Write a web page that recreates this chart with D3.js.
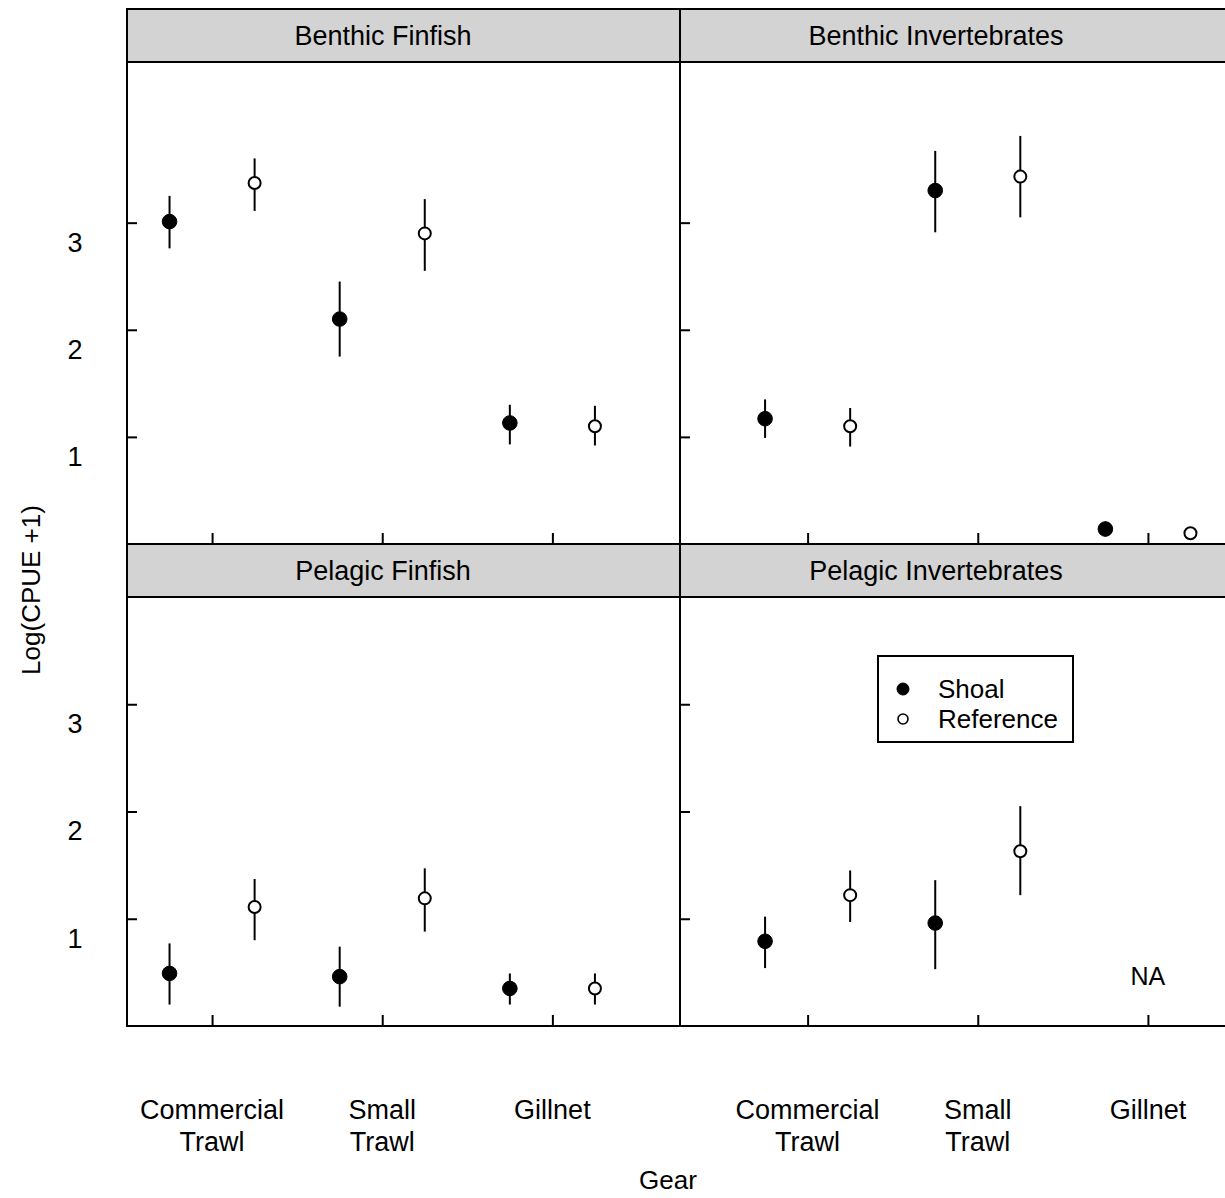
<!DOCTYPE html>
<html>
<head>
<meta charset="utf-8">
<script src="https://cdn.jsdelivr.net/npm/d3@7"></script>
<style>
  html, body { margin: 0; padding: 0; background: #fff; }
  svg { display: block; font-family: "Liberation Sans", Arial, Helvetica, sans-serif; }
</style>
</head>
<body>
<svg id="chart" width="1225" height="1198"></svg>
<script>
// Gear categories (x axis), two-line labels
const gears = ["Commercial Trawl", "Small Trawl", "Gillnet"];
const gearLabelLines = [["Commercial", "Trawl"], ["Small", "Trawl"], ["Gillnet"]];
const groups = ["Shoal", "Reference"];
const panelTitles = ["Benthic Finfish", "Benthic Invertebrates", "Pelagic Finfish", "Pelagic Invertebrates"];
const yTicks = [1, 2, 3];

// Means and error-bar limits of Log(CPUE + 1), per gear; null = not available
const benthicFinfishShoal = [3.01, 2.10, 1.13];
const benthicFinfishShoalLo = [2.76, 1.75, 0.93];
const benthicFinfishShoalHi = [3.25, 2.45, 1.30];
const benthicFinfishRef = [3.37, 2.90, 1.10];
const benthicFinfishRefLo = [3.11, 2.55, 0.92];
const benthicFinfishRefHi = [3.60, 3.22, 1.29];

const benthicInvertShoal = [1.17, 3.30, 0.14];
const benthicInvertShoalLo = [0.99, 2.91, 0.07];
const benthicInvertShoalHi = [1.35, 3.67, 0.21];
const benthicInvertRef = [1.10, 3.43, 0.10];
const benthicInvertRefLo = [0.91, 3.05, 0.06];
const benthicInvertRefHi = [1.27, 3.81, 0.14];

const pelagicFinfishShoal = [0.49, 0.46, 0.35];
const pelagicFinfishShoalLo = [0.20, 0.18, 0.20];
const pelagicFinfishShoalHi = [0.77, 0.74, 0.49];
const pelagicFinfishRef = [1.11, 1.19, 0.35];
const pelagicFinfishRefLo = [0.80, 0.88, 0.20];
const pelagicFinfishRefHi = [1.37, 1.47, 0.49];

const pelagicInvertShoal = [0.79, 0.96, null];
const pelagicInvertShoalLo = [0.54, 0.53, null];
const pelagicInvertShoalHi = [1.02, 1.36, null];
const pelagicInvertRef = [1.22, 1.63, null];
const pelagicInvertRefLo = [0.97, 1.22, null];
const pelagicInvertRefHi = [1.45, 2.05, null];

const yMaxTop = 4.5;
const yMaxBottom = 4;

// ---- assemble per-panel records ----
function series(mean, lo, hi, group) {
  return mean.map((m, i) => ({ gear: i + 1, group, mean: m, lo: lo[i], hi: hi[i] }));
}
const panelData = [
  series(benthicFinfishShoal, benthicFinfishShoalLo, benthicFinfishShoalHi, "Shoal")
    .concat(series(benthicFinfishRef, benthicFinfishRefLo, benthicFinfishRefHi, "Reference")),
  series(benthicInvertShoal, benthicInvertShoalLo, benthicInvertShoalHi, "Shoal")
    .concat(series(benthicInvertRef, benthicInvertRefLo, benthicInvertRefHi, "Reference")),
  series(pelagicFinfishShoal, pelagicFinfishShoalLo, pelagicFinfishShoalHi, "Shoal")
    .concat(series(pelagicFinfishRef, pelagicFinfishRefLo, pelagicFinfishRefHi, "Reference")),
  series(pelagicInvertShoal, pelagicInvertShoalLo, pelagicInvertShoalHi, "Shoal")
    .concat(series(pelagicInvertRef, pelagicInvertRefLo, pelagicInvertRefHi, "Reference"))
];

// ---- layout ----
const svg = d3.select("#chart");
const cols = [
  { range: [127, 680], domain: [0.5, 3.75], titleX: 383 },
  { range: [680, 1233], domain: [0.25, 3.5], titleX: 936 }
];
const rows = [
  { stripTop: 9, plotTop: 62, plotBottom: 544, yMax: yMaxTop },
  { stripTop: 544, plotTop: 597, plotBottom: 1026, yMax: yMaxBottom }
];
const offset = { Shoal: -0.25, Reference: 0.25 };
const fontSize = 27;

panelTitles.forEach((title, p) => {
  const r = rows[Math.floor(p / 2)];
  const col = cols[p % 2];
  const c = col.range;
  const x = d3.scaleLinear().domain(col.domain).range(c);
  const y = d3.scaleLinear().domain([0, r.yMax]).range([r.plotBottom, r.plotTop]);
  const g = svg.append("g");

  // strip
  g.append("rect")
    .attr("x", c[0]).attr("y", r.stripTop)
    .attr("width", c[1] - c[0]).attr("height", r.plotTop - r.stripTop)
    .attr("fill", "#d3d3d3").attr("stroke", "#000").attr("stroke-width", 2);
  g.append("text")
    .attr("x", col.titleX)
    .attr("y", (r.stripTop + r.plotTop) / 2)
    .attr("dy", "0.35em")
    .attr("text-anchor", "middle")
    .attr("font-size", fontSize)
    .text(title);

  // x ticks pointing inward from the panel bottom
  g.append("g")
    .attr("transform", `translate(0,${r.plotBottom})`)
    .call(d3.axisTop(x).tickValues([1, 2, 3]).tickSize(11).tickFormat(""))
    .call(a => a.select(".domain").remove())
    .selectAll("line").attr("stroke", "#000").attr("stroke-width", 2);

  // y ticks pointing inward from the panel's left edge
  g.append("g")
    .attr("transform", `translate(${c[0]},0)`)
    .call(d3.axisRight(y).tickValues(yTicks).tickSize(10).tickFormat(""))
    .call(a => a.select(".domain").remove())
    .selectAll("line").attr("stroke", "#000").attr("stroke-width", 2);

  // y tick labels on the left column only
  if (p % 2 === 0) {
    const lab = g.append("g")
      .attr("transform", `translate(${c[0]},0)`)
      .call(d3.axisLeft(y).tickValues(yTicks).tickSize(0).tickPadding(0).tickFormat(d3.format("d")));
    lab.select(".domain").remove();
    lab.selectAll("text")
      .attr("x", -52)
      .attr("dy", "1.05em")
      .attr("text-anchor", "middle")
      .attr("font-size", fontSize)
      .attr("font-family", "Liberation Sans, Arial, sans-serif")
      .attr("fill", "#000");
  }

  // panel border
  g.append("rect")
    .attr("x", c[0]).attr("y", r.plotTop)
    .attr("width", c[1] - c[0]).attr("height", r.plotBottom - r.plotTop)
    .attr("fill", "none").attr("stroke", "#000").attr("stroke-width", 2);

  const pts = panelData[p].filter(d => d.mean !== null);
  const px = d => x(d.gear + offset[d.group]);

  // error bars
  g.selectAll("line.err").data(pts).join("line")
    .attr("class", "err")
    .attr("x1", px).attr("x2", px)
    .attr("y1", d => y(d.lo)).attr("y2", d => y(d.hi))
    .attr("stroke", "#000").attr("stroke-width", 2);

  // means
  g.selectAll("circle.pt").data(pts).join("circle")
    .attr("class", "pt")
    .attr("cx", px).attr("cy", d => y(d.mean))
    .attr("r", d => d.group === "Shoal" ? 7.3 : 6)
    .attr("fill", d => d.group === "Shoal" ? "#000" : "#fff")
    .attr("stroke", "#000").attr("stroke-width", d => d.group === "Shoal" ? 1 : 2);

  // missing gear marker
  panelData[p].filter(d => d.mean === null && d.group === "Shoal").forEach(d => {
    g.append("text")
      .attr("x", x(d.gear)).attr("y", y(0.46))
      .attr("dy", "0.35em").attr("text-anchor", "middle")
      .attr("font-size", fontSize - 2)
      .text("NA");
  });

  // x tick labels beneath the bottom row
  if (Math.floor(p / 2) === 1) {
    gearLabelLines.forEach((lines, i) => {
      const t = g.append("text")
        .attr("x", x(i + 1))
        .attr("y", 1119)
        .attr("text-anchor", "middle")
        .attr("font-size", fontSize);
      lines.forEach((ln, k) => {
        t.append("tspan").attr("x", x(i + 1)).attr("dy", k === 0 ? 0 : 32).text(ln);
      });
    });
  }
});

// legend inside the Pelagic Invertebrates panel
const legend = svg.append("g");
legend.append("rect")
  .attr("x", 878).attr("y", 656).attr("width", 195).attr("height", 86)
  .attr("fill", "#fff").attr("stroke", "#000").attr("stroke-width", 2);
groups.forEach((grp, i) => {
  const cy = 689 + i * 30;
  legend.append("circle")
    .attr("cx", 903).attr("cy", cy)
    .attr("r", grp === "Shoal" ? 6 : 5)
    .attr("fill", grp === "Shoal" ? "#000" : "#fff")
    .attr("stroke", "#000").attr("stroke-width", grp === "Shoal" ? 1 : 1.6);
  legend.append("text")
    .attr("x", 938).attr("y", cy).attr("dy", "0.35em")
    .attr("font-size", fontSize - 1)
    .text(grp);
});

// axis titles
svg.append("text")
  .attr("transform", "translate(31,590) rotate(-90)")
  .attr("dy", "0.35em").attr("text-anchor", "middle")
  .attr("font-size", fontSize - 1)
  .text("Log(CPUE +1)");
svg.append("text")
  .attr("x", 668).attr("y", 1180).attr("dy", "0.35em")
  .attr("text-anchor", "middle")
  .attr("font-size", fontSize - 1)
  .text("Gear");
</script>
</body>
</html>
